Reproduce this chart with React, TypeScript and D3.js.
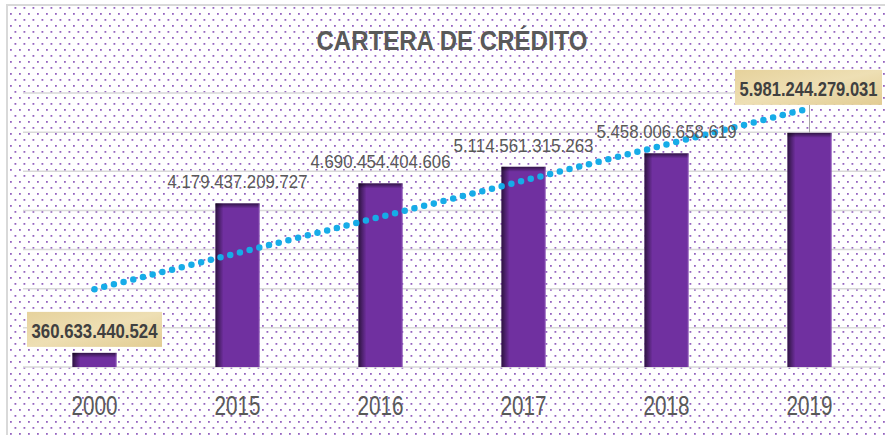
import React from "react";
import * as d3 from "d3";

// chart data
const years = ["2000", "2015", "2016", "2017", "2018", "2019"];
const cartera = [360633440524, 4179437209727, 4690454404606, 5114561315263, 5458006658619, 5981244279031];
const labels = ["360.633.440.524", "4.179.437.209.727", "4.690.454.404.606", "5.114.561.315.263", "5.458.006.658.619", "5.981.244.279.031"];
const highlighted = [true, false, false, false, false, true];
const yTicks = [0, 1e12, 2e12, 3e12, 4e12, 5e12, 6e12, 7e12];

const W = 885;
const H = 435;
const plot = {left: 23, right: 881, top: 93, bottom: 367};
const grey = "#595959";
const font = "'Liberation Sans', Arial, sans-serif";

export default function App() {
    const x = d3.scaleBand()
        .domain(years)
        .range([plot.left, plot.right])
        .paddingInner(0.692)
        .paddingOuter(0.346);

    const y = d3.scaleLinear()
        .domain([0, 7e12])
        .range([plot.bottom, plot.top]);

    const cx = (yr: string) => (x(yr) as number) + x.bandwidth() / 2;

    // linear trendline (least squares over category index)
    const idx = years.map((_, i) => i);
    const mx = d3.mean(idx) as number;
    const my = d3.mean(cartera) as number;
    const sxy = d3.sum(idx, i => (i - mx) * (cartera[i] - my));
    const sxx = d3.sum(idx, i => (i - mx) * (i - mx));
    const slope = sxy / sxx;
    const icpt = my - slope * mx;
    const trend = d3.line<number>()
        .x(i => cx(years[i]))
        .y(i => y(icpt + slope * i));
    const trendPath = trend([0, years.length - 1]) as string;

    return (
        <svg width={W} height={H} style={{position: "absolute", left: 0, top: 0}}>
            <defs>
                <pattern id="dots" width="9" height="12" patternUnits="userSpaceOnUse">
                    <rect x="1" y="1" width="1.8" height="1.8" fill="#7A3DB0" opacity="0.8"/>
                    <rect x="5.5" y="7" width="1.8" height="1.8" fill="#7A3DB0" opacity="0.8"/>
                </pattern>
                <linearGradient id="shadeL" x1="0" x2="1" y1="0" y2="0">
                    <stop offset="0" stopColor="#000" stopOpacity="0.6"/>
                    <stop offset="1" stopColor="#000" stopOpacity="0"/>
                </linearGradient>
                <linearGradient id="shadeT" x1="0" x2="0" y1="0" y2="1">
                    <stop offset="0" stopColor="#000" stopOpacity="0.55"/>
                    <stop offset="1" stopColor="#000" stopOpacity="0"/>
                </linearGradient>
                <linearGradient id="paper" x1="0" x2="1" y1="0" y2="1">
                    <stop offset="0" stopColor="#E6D29C"/>
                    <stop offset="0.5" stopColor="#EEDFB4"/>
                    <stop offset="1" stopColor="#E2CC92"/>
                </linearGradient>
            </defs>

            <rect x="0" y="0" width={W} height={H} fill="#fff"/>
            <rect x="7" y="4" width={W} height={H} fill="url(#dots)"/>
            <line x1="7" x2={W} y1="5" y2="5" stroke="#D9D9D9" strokeWidth="2"/>
            <line x1="7" x2="7" y1="4" y2={H} stroke="#D9D9D9" strokeWidth="2"/>

            {/* gridlines */}
            {yTicks.map(t => (
                <line key={t} x1={plot.left} x2={plot.right} y1={y(t)} y2={y(t)}
                      stroke="#D9D9D9" strokeWidth="1.5"/>
            ))}

            {/* title */}
            <text x="452" y="50" textAnchor="middle" fontFamily={font} fontWeight="bold"
                  fontSize="27" fill={grey} textLength="271" lengthAdjust="spacingAndGlyphs">
                CARTERA DE CRÉDITO
            </text>

            {/* bars */}
            {years.map((yr, i) => {
                const bx = x(yr) as number;
                const by = y(cartera[i]);
                const bh = y(0) - by;
                const bw = x.bandwidth();
                return (
                    <g key={yr}>
                        <rect x={bx} y={by} width={bw} height={bh} fill="#7030A0"/>
                        <rect x={bx} y={by} width={8} height={bh} fill="url(#shadeL)"/>
                        <rect x={bx} y={by} width={bw} height={Math.min(5, bh)} fill="url(#shadeT)"/>
                        <rect x={bx + bw - 1} y={by} width={1} height={bh} fill="#9B6BC4" opacity="0.6"/>
                    </g>
                );
            })}

            {/* trendline */}
            <path d={trendPath} fill="none" stroke="#16ACE8" strokeWidth="6.5"
                  strokeLinecap="round" strokeDasharray="0 10"/>

            {/* data labels */}
            {years.map((yr, i) => {
                const c = cx(yr);
                const top = y(cartera[i]);
                if (!highlighted[i]) {
                    return (
                        <text key={yr} x={c} y={top - 15} textAnchor="middle" fontFamily={font}
                              fontSize="19" fill={grey} textLength="140" lengthAdjust="spacingAndGlyphs">
                            {labels[i]}
                        </text>
                    );
                }
                const last = i === years.length - 1;
                const bw = last ? 147 : 135;
                const bcx = last ? c - 1 : c;
                const boxBottom = last ? top - 28 : top - 6;
                const boxTop = boxBottom - 35;
                return (
                    <g key={yr}>
                        {last && <line x1={c} x2={c} y1={boxBottom} y2={top} stroke="#A6A6A6" strokeWidth="1"/>}
                        <rect x={bcx - bw / 2} y={boxTop} width={bw} height={35} fill="url(#paper)"/>
                        <text x={bcx} y={boxBottom - 9} textAnchor="middle" fontFamily={font}
                              fontWeight="bold" fontSize="20" fill="#404040"
                              textLength={last ? 138 : 126} lengthAdjust="spacingAndGlyphs">
                            {labels[i]}
                        </text>
                    </g>
                );
            })}

            {/* x axis labels */}
            {years.map(yr => (
                <text key={yr} x={cx(yr)} y="415" textAnchor="middle" fontFamily={font}
                      fontSize="27" fill={grey} textLength="46" lengthAdjust="spacingAndGlyphs">
                    {yr}
                </text>
            ))}
        </svg>
    );
}
